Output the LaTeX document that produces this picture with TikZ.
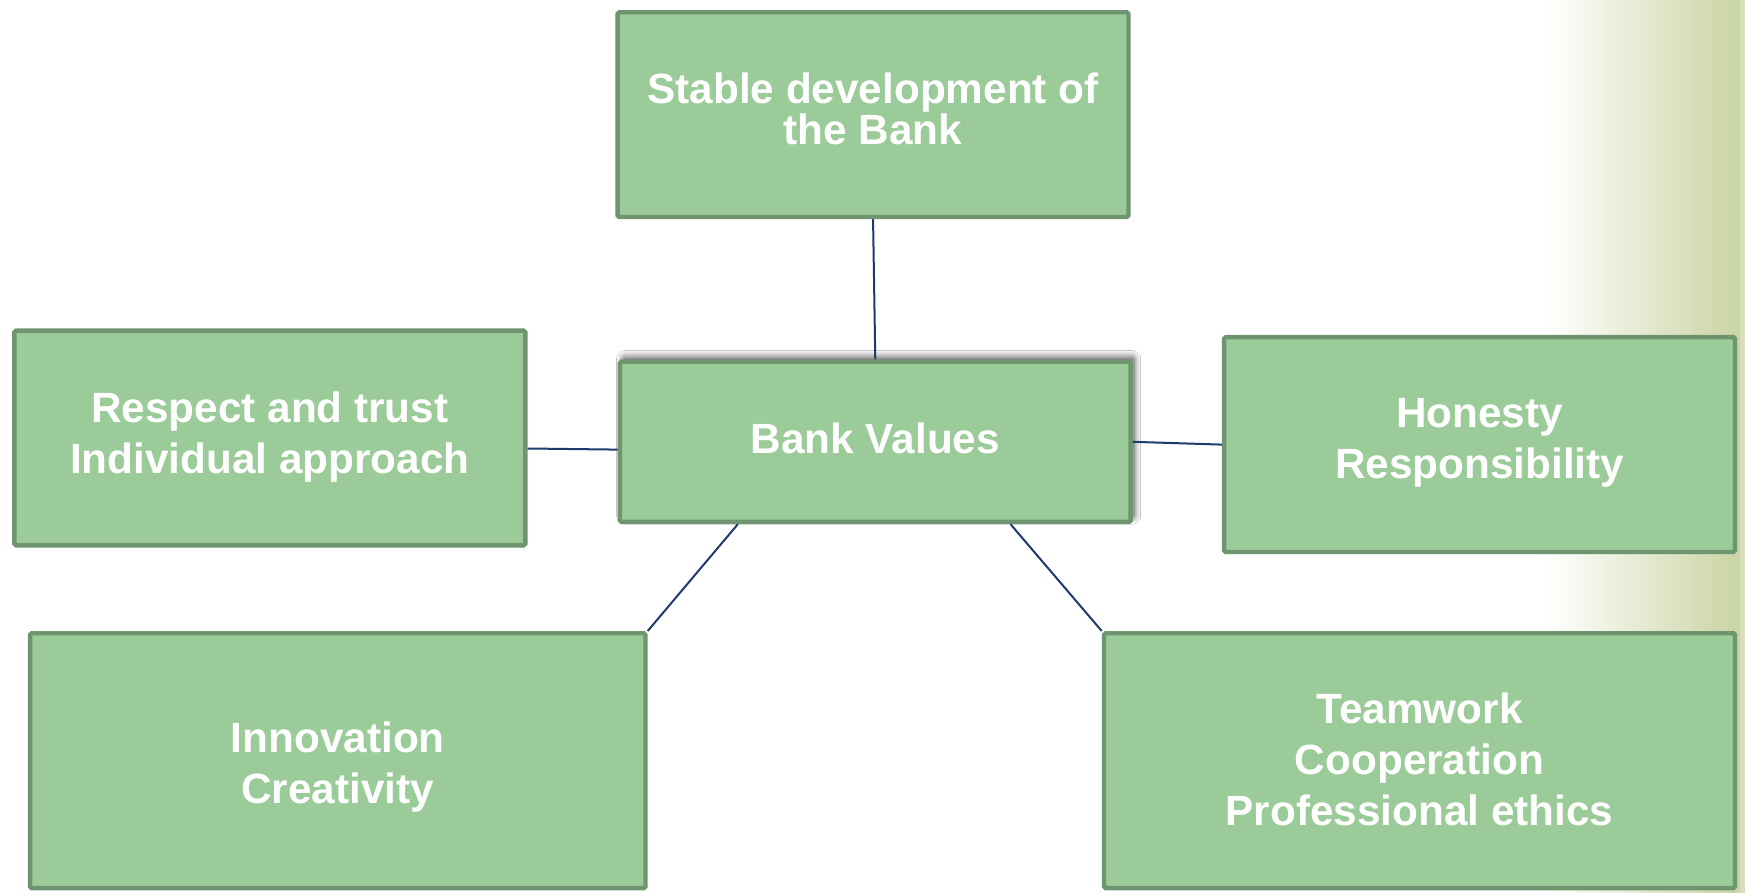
\documentclass[tikz,border=0pt]{standalone}
\usepackage{fontspec}
\setmainfont{Liberation Sans}
\usetikzlibrary{shadows.blur,calc}
\definecolor{boxfill}{HTML}{9BCB98}
\definecolor{boxline}{HTML}{6F9470}
\definecolor{conn}{HTML}{1F3B6B}
\definecolor{olive}{HTML}{C9D4A3}
\tikzset{
 vbox/.style={rectangle, draw=boxline, fill=boxfill, line width=4pt, rounded corners=1.5pt, inner sep=0pt},
 vtext/.style={text=white, font=\fontsize{38}{46}\selectfont\bfseries, align=center, inner sep=0pt, anchor=north},
 link/.style={draw=conn, line width=1.8pt}
}
\begin{document}
\begin{tikzpicture}[x=1pt,y=-1pt]
\useasboundingbox (0,0) rectangle (1568,802.4);
\fill[white] (0,0) rectangle (1568,802.4);
\shade[left color=white,right color=olive] (1390,0) rectangle (1563.5,802.4);
\fill[olive!75!white] (1563.5,0) rectangle (1568,802.4);

\node[vbox, minimum width=459pt, minimum height=184pt] (top) at (784.5,103) {};
\node[vbox, minimum width=459pt, minimum height=144pt,
  blur shadow={shadow xshift=3pt, shadow yshift=4pt, shadow blur radius=6pt, shadow blur steps=12, shadow opacity=70}] (ctr) at (786.5,397) {};
\node[vbox, minimum width=459pt, minimum height=193pt] (left) at (242.5,393.5) {};
\node[vbox, minimum width=459pt, minimum height=193pt] (right) at (1329.5,399.5) {};
\node[vbox, minimum width=553pt, minimum height=229pt] (bl) at (303.5,683.5) {};
\node[vbox, minimum width=567pt, minimum height=229pt] (br) at (1275.5,683.5) {};

\node[vtext, font=\fontsize{38}{36.8}\selectfont\bfseries] (topT) at (784.5,65.3) {Stable development of\\the Bank};
\node[vtext] (ctrT) at (786.5,380.1) {Bank Values};
\node[vtext] (leftT) at (242.5,351.7) {Respect and trust\\Individual approach};
\node[vtext] (rightT) at (1329.5,357.7) {Honesty\\Responsibility};
\node[vtext] (blT) at (303.5,648.2) {Innovation\\Creativity};
\node[vtext] (brT) at (1275.5,622.2) {Teamwork\\Cooperation\\Professional ethics};

\draw[link] (top.south) -- (ctr.north);
\draw[link] ($(left.east)+(0,9.5)$) -- ($(ctr.west)+(0,7)$);
\draw[link] (ctr.east) -- (right.west);
\draw[link] ($(ctr.south west)+(108,0)$) -- (bl.north east);
\draw[link] ($(ctr.south west)+(353,0)$) -- (br.north west);
\end{tikzpicture}
\end{document}
